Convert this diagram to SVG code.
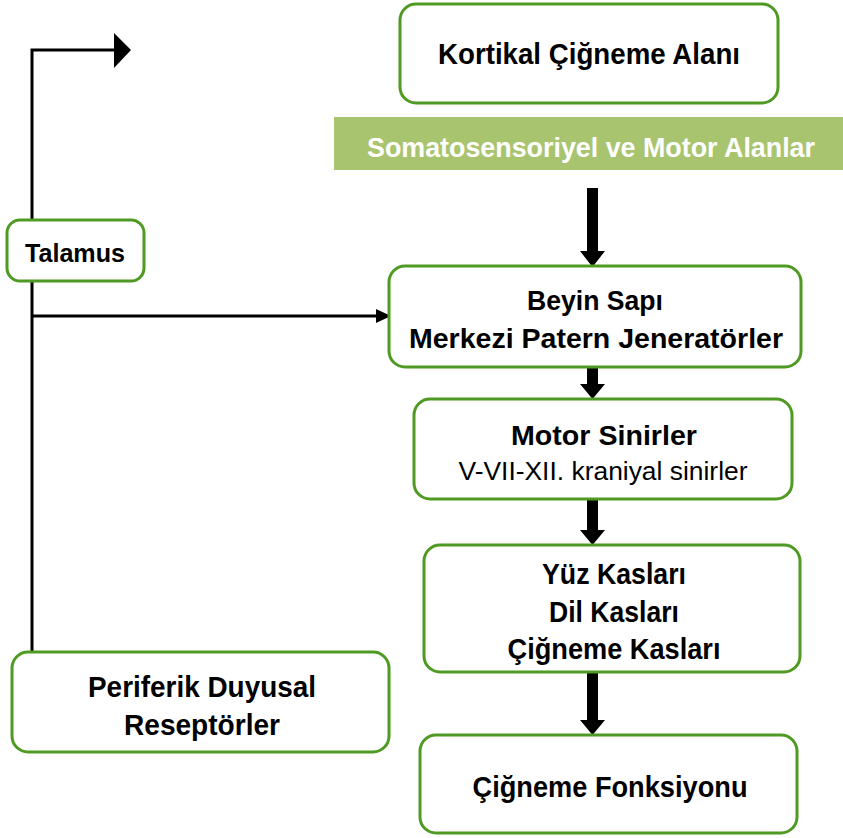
<svg xmlns="http://www.w3.org/2000/svg" width="843" height="838" viewBox="0 0 843 838">
<style>
.box{fill:#fff;stroke:#4F9A22;stroke-width:3}
.t{font-family:"Liberation Sans",Arial,sans-serif;font-weight:bold;fill:#000;text-anchor:middle}
.r{font-family:"Liberation Sans",Arial,sans-serif;fill:#000;text-anchor:middle}
.line{fill:none;stroke:#000;stroke-width:3}
.blk{fill:#000}
</style>
<rect width="843" height="838" fill="#fff"/>
<g id="connectors">
<path class="line" d="M32,652 V50 H116"/>
<polygon class="blk" points="114,33 131,50 114,68"/>
<path class="line" d="M32,316 H378"/>
<polygon class="blk" points="376,309 391,316 376,323"/>
<polygon class="blk" points="587,188 598,188 598,251 605,251 592.5,267 580,251 587,251"/>
<polygon class="blk" points="587,367 598,367 598,384 605,384 592.5,399 580,384 587,384"/>
<polygon class="blk" points="587,499 598,499 598,530 605,530 592.5,545 580,530 587,530"/>
<polygon class="blk" points="587,672 598,672 598,720 605,720 592.5,735 580,720 587,720"/>
</g>
<g id="kortikal">
<rect class="box" x="400" y="4" width="378" height="99" rx="16"/>
<text class="t" x="589" y="64" font-size="29" textLength="302" lengthAdjust="spacingAndGlyphs">Kortikal Çiğneme Alanı</text>
</g>
<g id="somatosensoriyel">
<rect x="334" y="117" width="509" height="53" fill="#A9C46E"/>
<text class="t" x="591" y="157" font-size="28" style="fill:#fff" textLength="448" lengthAdjust="spacingAndGlyphs">Somatosensoriyel ve Motor Alanlar</text>
</g>
<g id="talamus">
<rect class="box" x="7" y="220" width="137" height="61" rx="13"/>
<text class="t" x="75" y="262" font-size="25" textLength="100" lengthAdjust="spacingAndGlyphs">Talamus</text>
</g>
<g id="beyin">
<rect class="box" x="389" y="266" width="412" height="101" rx="16"/>
<text class="t" x="595" y="310" font-size="28" textLength="136" lengthAdjust="spacingAndGlyphs">Beyin Sapı</text>
<text class="t" x="596" y="348" font-size="28" textLength="374" lengthAdjust="spacingAndGlyphs">Merkezi Patern Jeneratörler</text>
</g>
<g id="motor">
<rect class="box" x="414" y="399" width="378" height="100" rx="16"/>
<text class="t" x="604" y="445" font-size="28" textLength="186" lengthAdjust="spacingAndGlyphs">Motor Sinirler</text>
<text class="r" x="603" y="480" font-size="25" textLength="289" lengthAdjust="spacingAndGlyphs">V-VII-XII. kraniyal sinirler</text>
</g>
<g id="kaslar">
<rect class="box" x="424" y="545" width="376" height="127" rx="16"/>
<text class="t" x="614" y="584" font-size="29" textLength="144" lengthAdjust="spacingAndGlyphs">Yüz Kasları</text>
<text class="t" x="614" y="622" font-size="29" textLength="130" lengthAdjust="spacingAndGlyphs">Dil Kasları</text>
<text class="t" x="614" y="659" font-size="29" textLength="213" lengthAdjust="spacingAndGlyphs">Çiğneme Kasları</text>
</g>
<g id="periferik">
<rect class="box" x="12" y="652" width="377" height="100" rx="16"/>
<text class="t" x="202" y="697" font-size="29" textLength="228" lengthAdjust="spacingAndGlyphs">Periferik Duyusal</text>
<text class="t" x="202" y="735" font-size="29" textLength="156" lengthAdjust="spacingAndGlyphs">Reseptörler</text>
</g>
<g id="fonksiyon">
<rect class="box" x="420" y="735" width="377" height="98" rx="16"/>
<text class="t" x="610" y="797" font-size="29" textLength="275" lengthAdjust="spacingAndGlyphs">Çiğneme Fonksiyonu</text>
</g>
</svg>
